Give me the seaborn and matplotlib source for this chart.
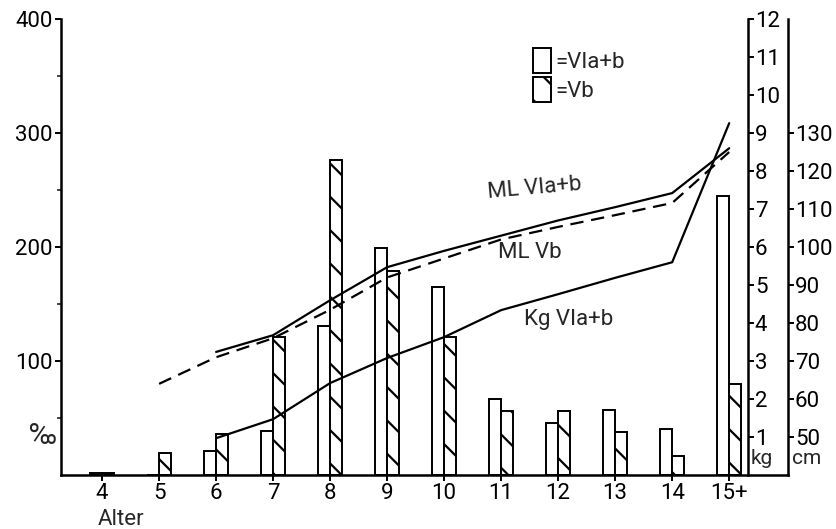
import numpy as np
import pandas as pd
import matplotlib
matplotlib.use("Agg")
import matplotlib.pyplot as plt
from matplotlib.patches import Patch
import seaborn as sns

# age classes (x axis)
ages = [4, 5, 6, 7, 8, 9, 10, 11, 12, 13, 14, 15]
age_labels = ['4', '5', '6', '7', '8', '9', '10', '11', '12', '13', '14', '15+']

# bar values in per mille
vi_ab = [2, 0, 21, 39, 131, 199, 165, 67, 46, 57, 40, 245]
v_b = [2, 19, 36, 121, 276, 179, 121, 56, 56, 38, 17, 80]

# growth curves
kg_ages = [6, 7, 8, 9, 10, 11, 12, 13, 14, 15]
kg_vi_ab = [0.97, 1.47, 2.42, 3.08, 3.63, 4.34, 4.76, 5.19, 5.6, 9.26]
ml_vi_ages = [6, 7, 8, 9, 10, 11, 12, 13, 14, 15]
ml_vi_ab = [72.4, 76.8, 86, 94.7, 99, 103, 107, 110.5, 114.2, 126]
ml_vb_ages = [5, 6, 7, 8, 9, 10, 11, 12, 13, 14, 15]
ml_vb = [64, 71, 76, 83.5, 92, 97, 102, 105.3, 108.4, 111.6, 125]

sns.set_style("ticks")
plt.rcParams['font.family'] = ['Roboto', 'DejaVu Sans']
plt.rcParams['hatch.linewidth'] = 1.6
plt.rcParams['hatch.color'] = 'black'

df = pd.DataFrame({
    'age': ages * 2,
    'val': vi_ab + v_b,
    'grp': ['VIa+b'] * len(ages) + ['Vb'] * len(ages),
})

fig = plt.figure(figsize=(8.36, 5.29), dpi=100)
ax = fig.add_axes([0.073, 0.102, 0.8695, 0.862])

sns.barplot(data=df, x='age', y='val', hue='grp', native_scale=True,
            width=0.42, palette=['white', 'white'], edgecolor='black',
            linewidth=1.4, errorbar=None, legend=False, ax=ax)
for p in ax.containers[1]:
    p.set_hatch('\\')

ax.set_xlim(3.28, 16.03)
ax.set_ylim(0, 400)
ax.set_xticks(ages)
ax.set_xticklabels(age_labels)
ax.set_yticks([100, 200, 300, 400])
ax.set_yticks([50, 150, 250, 350], minor=True)
ax.set_xlabel('')
ax.set_ylabel('')
ax.tick_params(axis='both', labelsize=16, length=4, width=1.4, pad=2, colors='black')
ax.tick_params(axis='y', which='minor', length=3, width=1.2)
for s in ['left', 'bottom']:
    ax.spines[s].set_linewidth(1.8)
    ax.spines[s].set_color('black')
for s in ['top', 'right']:
    ax.spines[s].set_visible(False)
ax.text(-0.006, 0.085, '‰', transform=ax.transAxes, ha='right', va='center', fontsize=21)
ax.text(3.93, -0.097, 'Alter', transform=ax.get_xaxis_transform(), ha='left', va='center', fontsize=16)

# kg axis
ax2 = ax.twinx()
ax2.set_ylim(0, 12)
ax2.spines['right'].set_position(('axes', 0.945))
for s in ['top', 'left', 'bottom']:
    ax2.spines[s].set_visible(False)
ax2.spines['right'].set_linewidth(1.8)
ax2.spines['right'].set_color('black')
ax2.set_yticks(range(1, 13))
ax2.tick_params(axis='y', labelsize=16, length=4, width=1.4, pad=1, colors='black')
ax2.text(0.949, 0.036, 'kg', transform=ax2.transAxes, ha='left', va='center', fontsize=15)

# cm axis
ax3 = ax.twinx()
ax3.set_ylim(40, 160)
for s in ['top', 'left', 'bottom']:
    ax3.spines[s].set_visible(False)
ax3.spines['right'].set_linewidth(1.8)
ax3.spines['right'].set_color('black')
ax3.set_yticks(range(50, 140, 10))
ax3.tick_params(axis='y', labelsize=16, length=4, width=1.4, pad=1, colors='black')
ax3.text(1.006, 0.036, 'cm', transform=ax3.transAxes, ha='left', va='center', fontsize=15)

sns.lineplot(x=kg_ages, y=kg_vi_ab, color='black', linewidth=1.6, ax=ax2)
sns.lineplot(x=ml_vi_ages, y=ml_vi_ab, color='black', linewidth=1.6, ax=ax3)
sns.lineplot(x=ml_vb_ages, y=ml_vb, color='black', linewidth=1.6, ax=ax3)
ax3.lines[-1].set_dashes([6, 3.5])
ax2.set_xlim(3.28, 16.03)
ax3.set_xlim(3.28, 16.03)

ax2.text(10.75, 7.55, 'ML VIa+b', ha='left', va='center', fontsize=16, rotation=5)
ax2.text(10.95, 5.85, 'ML Vb', ha='left', va='center', fontsize=16)
ax2.text(11.4, 4.1, 'Kg VIa+b', ha='left', va='center', fontsize=16)

handles = [Patch(facecolor='white', edgecolor='black', linewidth=1.4),
           Patch(facecolor='white', edgecolor='black', linewidth=1.4, hatch='\\')]
ax3.legend(handles, ['=VIa+b', '=Vb'], loc='upper left', bbox_to_anchor=(0.637, 0.955),
           frameon=False, fontsize=16, handlelength=0.8, handleheight=1.3,
           handletextpad=0.2, labelspacing=0.2, borderaxespad=0)

fig.savefig('out.png', dpi=100)
